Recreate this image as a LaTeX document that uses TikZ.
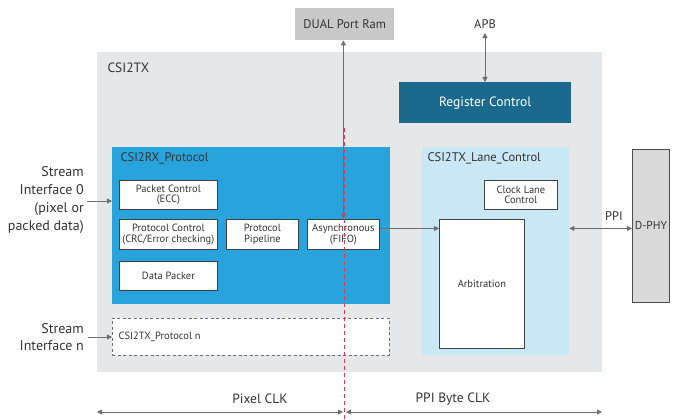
\documentclass[tikz,border=0pt]{standalone}
\usepackage{fontspec}
\setmainfont{PT Sans}
\usetikzlibrary{arrows.meta}
\definecolor{txt}{HTML}{333333}
\definecolor{ln}{HTML}{6D6E71}
\definecolor{outer}{HTML}{E6E7E8}
\definecolor{ram}{HTML}{C8C8C8}
\definecolor{regc}{HTML}{1B6A8E}
\definecolor{rxblue}{HTML}{29A3DC}
\definecolor{lanec}{HTML}{C9E7F5}
\definecolor{phyc}{HTML}{D9D9D9}
\definecolor{redl}{HTML}{E8364F}
\tikzset{
  area/.style={rectangle, anchor=north west, inner sep=0pt, draw=none},
  wbox/.style={rectangle, anchor=north west, fill=white, draw=black!75, line width=0.8pt, align=center, inner sep=1pt, font=\fontsize{10.5}{10.5}\selectfont, text=txt},
  lbl/.style={font=\fontsize{12.5}{13}\selectfont, text=txt},
  arr/.style={draw=ln, line width=0.9pt, -{Triangle[length=5pt,width=5pt]}},
  dbl/.style={draw=ln, line width=0.9pt, {Triangle[length=5pt,width=5pt]}-{Triangle[length=5pt,width=5pt]}},
}
\begin{document}
\begin{tikzpicture}[x=1pt,y=-1pt]
\useasboundingbox (0,0) rectangle (673,420);
\fill[white] (0,0) rectangle (673,420);
% outer CSI2TX
\node[area, fill=outer, minimum width=505, minimum height=320] (tx) at (97,52) {};
\node[lbl, anchor=west, font=\fontsize{13.5}{14}\selectfont] (txl) at (104,68) {CSI2TX};
% Dual port ram
\node[area, fill=ram, minimum width=99, minimum height=32, lbl] (dpr) at (295,8) {DUAL Port Ram};
% APB
\node[lbl] (apb) at (485,24) {APB};
% Register control
\node[area, fill=regc, minimum width=172, minimum height=41, text=white, font=\fontsize{13.5}{14}\selectfont] (reg) at (399,82) {Register Control};
% CSI2RX protocol
\node[area, fill=rxblue, minimum width=278, minimum height=157] (rx) at (112,147) {};
\node[lbl, anchor=west] (rxl) at (117,158) {CSI2RX\_Protocol};
\node[wbox, minimum width=98, minimum height=29] (pc) at (119,180) {Packet Control\\(ECC)};
\node[wbox, minimum width=98, minimum height=30] (prc) at (119,219) {Protocol Control\\(CRC/Error checking)};
\node[wbox, minimum width=72, minimum height=30] (pp) at (226,219) {Protocol\\Pipeline};
\node[wbox, minimum width=72, minimum height=30] (fifo) at (307,219) {Asynchronous\\(FIFO)};
\node[wbox, minimum width=98, minimum height=29] (dp) at (119,261) {Data Packer};
% Lane control
\node[area, fill=lanec, minimum width=147, minimum height=208] (lane) at (422,147) {};
\node[lbl, anchor=west] (lanel) at (424,158) {CSI2TX\_Lane\_Control};
\node[wbox, minimum width=73, minimum height=29] (clk) at (484,180) {Clock Lane\\Control};
\node[wbox, minimum width=85, minimum height=129] (arb) at (439,219) {Arbitration};
% D-PHY
\node[area, fill=phyc, draw=black!70, line width=0.8pt, minimum width=37, minimum height=153, lbl, font=\fontsize{11.5}{12}\selectfont] (phy) at (632,149) {D-PHY};
% protocol n
\node[area, fill=white, draw=ln, dashed, dash pattern=on 3pt off 2.5pt, line width=0.9pt, minimum width=277, minimum height=37] (pn) at (112,318) {};
\node[anchor=west, font=\fontsize{10.5}{11}\selectfont, text=txt] (pnl) at (115,337) {CSI2TX\_Protocol n};
% Stream interfaces
\node[lbl, align=right, anchor=east, inner sep=0pt, font=\fontsize{14}{17.8}\selectfont] (si0) at (84,200) {Stream\\Interface 0\\(pixel or\\packed data)};
\node[lbl, align=right, anchor=east, inner sep=0pt, font=\fontsize{14}{17.8}\selectfont] (sin) at (84,337) {Stream\\Interface n};
% connectors
\draw[arr] (si0.east) ++(3,1) coordinate (s0a) -- (s0a -| rx.west);
\draw[arr] (sin.east) ++(4,0) coordinate (sna) -- (sna -| pn.west);
\draw[dbl] (fifo.north |- dpr.south) -- (fifo.north);
\draw[dbl] (apb.south) ++(0,1) coordinate (apbs) -- (apbs |- reg.north);
\draw[arr] ([yshift=6pt]fifo.east) -- ([yshift=6pt]fifo.east -| arb.west);
\coordinate (ppiy) at ([yshift=6pt]fifo.east);
\draw[dbl] (ppiy -| lane.east) coordinate (ppia) -- (ppiy -| phy.west) coordinate (ppib);
\node[lbl, anchor=south] (ppil) at (614,224) {PPI};
% bottom clocks
\coordinate (c0) at (97,412);
\coordinate (c1) at (343,412);
\coordinate (c2) at (346,412);
\coordinate (c3) at (602,412);
\draw[dbl] (c0) -- (c1);
\draw[dbl] (c2) -- (c3);
\node[lbl, font=\fontsize{13.5}{14}\selectfont] (pclk) at (260,399) {Pixel CLK};
\node[lbl, font=\fontsize{13.5}{14}\selectfont] (bclk) at (453,399) {PPI Byte CLK};
% red dashed split
\draw[redl, line width=1pt, dash pattern=on 4pt off 3pt] (344.5,128) -- (344.5,420);
\end{tikzpicture}
\end{document}
